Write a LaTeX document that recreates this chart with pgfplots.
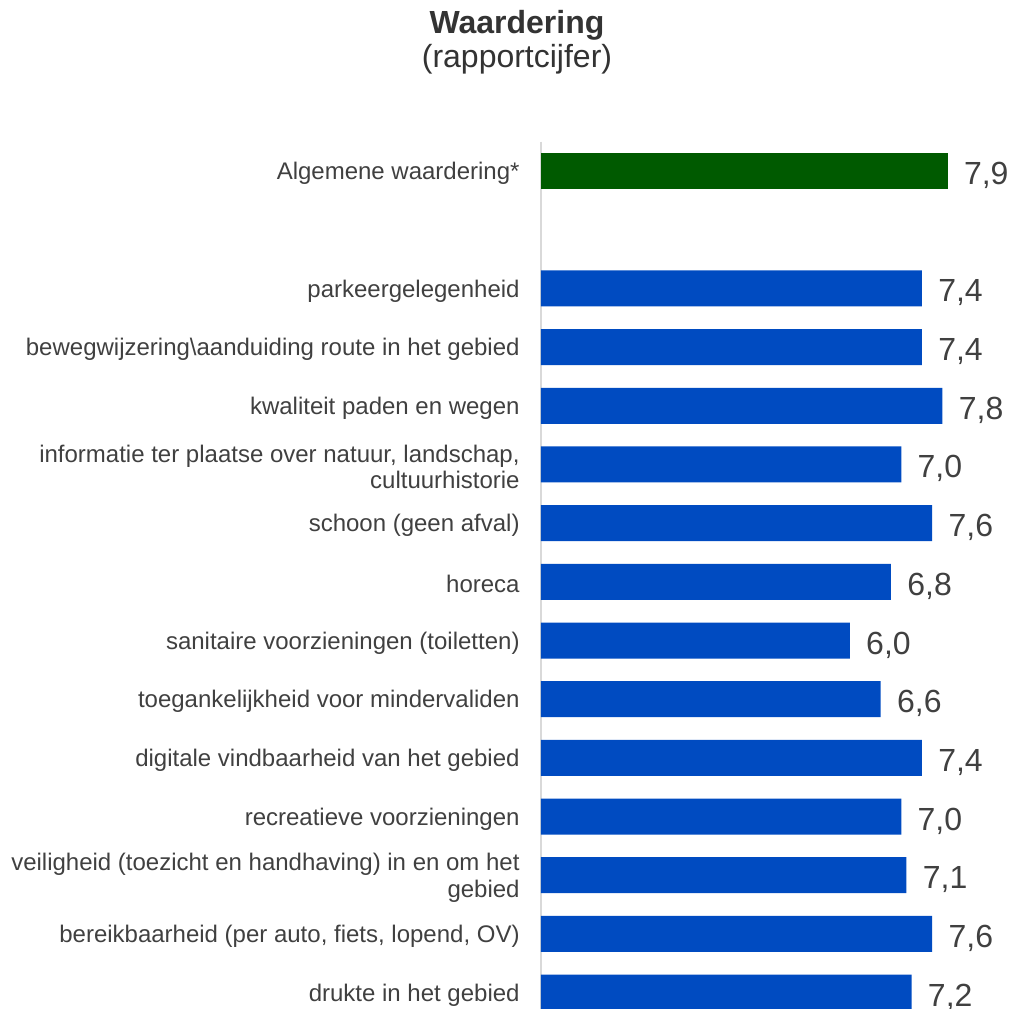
\documentclass[border=0pt]{standalone}
\usepackage{fontspec}
\setmainfont{Liberation Sans}
\usepackage{pgfplots}
\pgfplotsset{compat=1.18}
\definecolor{txt}{HTML}{404040}
\definecolor{ttl}{HTML}{333333}
\definecolor{groen}{HTML}{005A00}
\definecolor{blauw}{HTML}{004BC1}
\definecolor{aslijn}{HTML}{D9D9D9}

\begin{document}
\begin{tikzpicture}
\begin{axis}[
  name=ax,
  xbar, bar width=18pt,
  scale only axis, width=235.5pt, height=433.6pt,
  xmin=0, xmax=9.151, ymin=-0.5, ymax=14.278,
  y dir=reverse,
  clip=false,
  axis x line=none,
  axis y line*=left,
  y axis line style={draw=aslijn, line width=1pt},
  major tick length=0pt,
  ytick style={draw=none},
  ytick={0,2,3,...,14},
  yticklabels={Algemene waardering*, parkeergelegenheid,
    bewegwijzering\textbackslash aanduiding route in het gebied,
    kwaliteit paden en wegen,
    {informatie ter plaatse over natuur, landschap,\\cultuurhistorie},
    schoon (geen afval), horeca, sanitaire voorzieningen (toiletten),
    toegankelijkheid voor mindervaliden, digitale vindbaarheid van het gebied,
    recreatieve voorzieningen,
    {veiligheid (toezicht en handhaving) in en om het\\gebied},
    {bereikbaarheid (per auto, fiets, lopend, OV)}, drukte in het gebied},
  yticklabel style={font=\fontsize{12}{13.3}\selectfont, text=txt, align=right,
    inner sep=0pt, anchor=east, xshift=-10.5pt, yshift=-1.2pt},
  nodes near coords={\pgfmathprintnumber[fixed, fixed zerofill, precision=1,
    use comma, assume math mode=true]{\pgfplotspointmeta}},
  nodes near coords style={font=\fontsize{16}{19}\selectfont, text=txt,
    anchor=base west, inner sep=0pt, xshift=8pt, yshift=-6.75pt},
]
% algemene waardering
\addplot[fill=groen, draw=none, bar shift=0pt] coordinates {(7.9,0)};
% deelaspecten
\addplot[fill=blauw, draw=none, bar shift=0pt] coordinates {
  (7.4,2) (7.4,3) (7.8,4) (7.0,5) (7.6,6) (6.8,7) (6.0,8)
  (6.6,9) (7.4,10) (7.0,11) (7.1,12) (7.6,13) (7.2,14)};
\end{axis}
\node[anchor=base, font=\fontsize{16}{19}\selectfont\bfseries, text=ttl]
  at ([xshift=-12pt, yshift=53.85pt]ax.north west) {Waardering};
\node[anchor=base, font=\fontsize{16}{19}\selectfont, text=ttl]
  at ([xshift=-12pt, yshift=36.85pt]ax.north west) {(rapportcijfer)};
\pgfresetboundingbox
\path ([xshift=-270.5pt]ax.south west) rectangle ([yshift=70.85pt]ax.north east);
\end{tikzpicture}
\end{document}
